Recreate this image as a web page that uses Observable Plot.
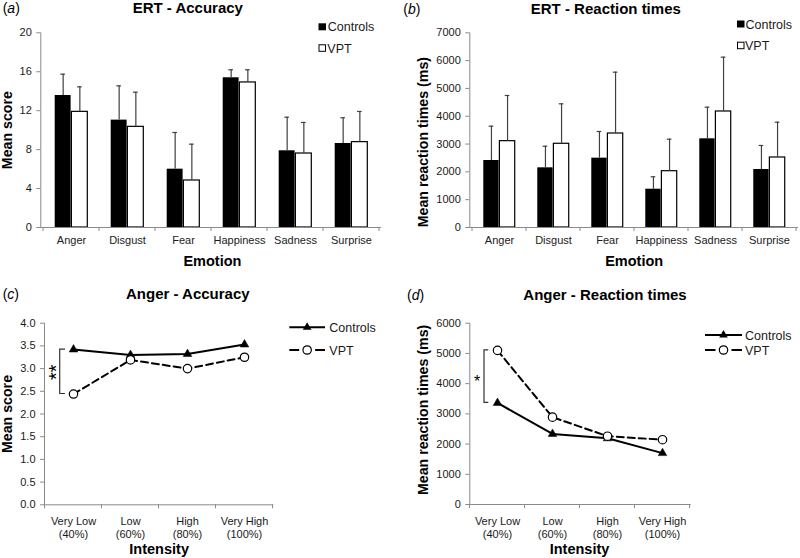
<!DOCTYPE html>
<html>
<head>
<meta charset="utf-8">
<script src="https://cdn.jsdelivr.net/npm/d3@7"></script>
<script src="https://cdn.jsdelivr.net/npm/@observablehq/plot@0.6"></script>
<style>
  html, body { margin: 0; padding: 0; background: #fff; }
  #root { position: relative; width: 800px; height: 558px; overflow: hidden; background: #fff;
          font-family: "Liberation Sans", Arial, Helvetica, sans-serif; }
  .panel { position: absolute; }
  #overlay { position: absolute; left: 0; top: 0; pointer-events: none; }
</style>
</head>
<body>
<div id="root"></div>
<script>
// ---------------- DATA ----------------
const emotions = ["Anger", "Disgust", "Fear", "Happiness", "Sadness", "Surprise"];
const accCtrlMean = [13.56, 11.03, 5.99, 15.38, 7.88, 8.63];
const accCtrlSD   = [2.19, 3.52, 3.77, 0.82, 3.45, 2.64];
const accVptMean  = [11.88, 10.34, 4.83, 14.90, 7.60, 8.77];
const accVptSD    = [2.57, 3.56, 3.73, 1.30, 3.19, 3.15];

const rtCtrlMean = [2409, 2146, 2493, 1377, 3189, 2086];
const rtCtrlSD   = [1234, 777, 959, 446, 1137, 863];
const rtVptMean  = [3104, 3010, 3380, 2024, 4171, 2517];
const rtVptSD    = [1642, 1437, 2205, 1151, 1953, 1269];

const intensities = ["Very Low (40%)", "Low (60%)", "High (80%)", "Very High (100%)"];
const intensityTickLabels = ["Very Low\n(40%)", "Low\n(60%)", "High\n(80%)", "Very High\n(100%)"];
const angerAccCtrl = [3.42, 3.30, 3.32, 3.53];
const angerAccVpt  = [2.44, 3.19, 3.00, 3.25];
const angerRtCtrl  = [3360, 2335, 2190, 1700];
const angerRtVpt   = [5100, 2890, 2260, 2145];

const accTicks = [0, 4, 8, 12, 16, 20];
const rtTicks = [0, 1000, 2000, 3000, 4000, 5000, 6000, 7000];
const angerAccTicks = [0, 0.5, 1, 1.5, 2, 2.5, 3, 3.5, 4];
const angerRtTicks = [0, 1000, 2000, 3000, 4000, 5000, 6000];

const groups = ["Controls", "VPT"];

// ---------------- STYLE ----------------
const FONT = '"Liberation Sans", Arial, Helvetica, sans-serif';
const AXIS = "#8a8a8a";
const TXT = "#1a1a1a";
const ERR = "#404040";
const PW = 400;

// boundary tick marks on a categorical x axis (Excel style)
function catTicks(len = 4) {
  return (index, scales, values, dims) => {
    const x = scales.x;
    const dom = x.domain();
    const step = x.step();
    const off = (typeof x.bandwidth === "function") ? x.bandwidth() / 2 : 0;
    const y0 = dims.height - dims.marginBottom;
    const g = d3.create("svg:g").attr("stroke", AXIS).attr("stroke-width", 1);
    const xs = dom.map(d => x(d) + off - step / 2);
    xs.push(x(dom[dom.length - 1]) + off + step / 2);
    for (const xx of xs) g.append("line").attr("x1", xx).attr("x2", xx).attr("y1", y0).attr("y2", y0 + len);
    return g.node();
  };
}

// significance bracket between two values at one category
function bracket(cat, v1, v2, off, len) {
  return (index, scales) => {
    const {x, y} = scales;
    const cx = x(cat) + ((typeof x.bandwidth === "function") ? x.bandwidth() / 2 : 0) + off;
    const a = y(v1), b = y(v2);
    return d3.create("svg:path")
      .attr("d", `M${cx + len},${a}H${cx}V${b}H${cx + len}`)
      .attr("fill", "none").attr("stroke", "#333").attr("stroke-width", 1.2).node();
  };
}

function barPanel(o) {
  const rows = emotions.map((e, i) => ({
    emotion: e,
    ctrl: o.ctrl[i], ctrlTop: o.ctrl[i] + o.ctrlSD[i],
    vpt: o.vpt[i], vptTop: o.vpt[i] + o.vptSD[i]
  }));
  const bw = (PW - o.ml - o.mr) / emotions.length;
  const gap = 0.206 * bw, half = bw / 2 - gap, off = half / 2, cap = 2.7;
  return Plot.plot({
    width: PW, height: 270,
    marginLeft: o.ml, marginRight: o.mr, marginTop: o.mt, marginBottom: o.mb,
    style: {fontFamily: FONT, background: "transparent", color: "#000"},
    x: {type: "band", domain: emotions, paddingInner: 0, paddingOuter: 0, axis: null},
    y: {domain: o.yDomain, axis: null},
    marks: [
      Plot.barY(rows, {x: "emotion", y: "ctrl", fill: "#000", insetLeft: gap, insetRight: bw / 2}),
      Plot.barY(rows, {x: "emotion", y: "vpt", fill: "#fff", stroke: "#000", strokeWidth: 1.2, insetLeft: bw / 2, insetRight: gap}),
      Plot.ruleX(rows, {x: "emotion", y1: "ctrl", y2: "ctrlTop", dx: -off, stroke: ERR, strokeWidth: 1.2}),
      Plot.ruleX(rows, {x: "emotion", y1: "vpt", y2: "vptTop", dx: off, stroke: ERR, strokeWidth: 1.2}),
      Plot.tickY(rows, {x: "emotion", y: "ctrlTop", insetLeft: bw / 2 - off - cap, insetRight: bw / 2 + off - cap, stroke: ERR, strokeWidth: 1.2}),
      Plot.tickY(rows, {x: "emotion", y: "vptTop", insetLeft: bw / 2 + off - cap, insetRight: bw / 2 - off - cap, stroke: ERR, strokeWidth: 1.2}),
      Plot.ruleY([o.yDomain[0]], {stroke: AXIS}),
      Plot.frame({anchor: "left", stroke: AXIS}),
      Plot.axisY({ticks: o.yTicks, tickSize: 4, tickPadding: 5, tickFormat: o.fmt, fontSize: 11, stroke: AXIS, fill: TXT, label: null}),
      catTicks(4),
      Plot.text(emotions, {x: d => d, text: d => d, frameAnchor: "bottom", lineAnchor: "top", dy: 8.9, fontSize: 11, fill: TXT}),
      Plot.text([o.ylab], {text: d => d, frameAnchor: "left", textAnchor: "middle", lineAnchor: "middle", rotate: -90, dx: o.ylabDx, dy: o.ylabDy, fontSize: 14.2, fontWeight: "bold", fill: "#000"}),
      Plot.text(["Emotion"], {text: d => d, frameAnchor: "bottom", textAnchor: "middle", lineAnchor: "middle", dx: o.xlabDx, dy: 33.4, fontSize: 14.5, fontWeight: "bold", fill: "#000"})
    ]
  });
}

function linePanel(o) {
  const rows = intensities.map((c, i) => ({cat: c, label: intensityTickLabels[i], ctrl: o.ctrl[i], vpt: o.vpt[i]}));
  const sig = [{cat: intensities[0], mid: (o.ctrl[0] + o.vpt[0]) / 2}];
  return Plot.plot({
    width: PW, height: 288,
    marginLeft: o.ml, marginRight: o.mr, marginTop: o.mt, marginBottom: o.mb,
    style: {fontFamily: FONT, background: "transparent", color: "#000"},
    x: {type: "point", domain: intensities, padding: 0.5, axis: null},
    y: {domain: o.yDomain, axis: null},
    marks: [
      Plot.ruleY([o.yDomain[0]], {stroke: AXIS}),
      Plot.frame({anchor: "left", stroke: AXIS}),
      Plot.axisY({ticks: o.yTicks, tickSize: 4, tickPadding: 5, tickFormat: o.fmt, fontSize: 11, stroke: AXIS, fill: TXT, label: null}),
      catTicks(4),
      Plot.text(rows, {x: "cat", text: "label", frameAnchor: "bottom", lineAnchor: "top", dy: o.tickDy, lineHeight: 1.18, fontSize: 11, fill: TXT}),
      bracket(intensities[0], o.ctrl[0], o.vpt[0], o.brOff, o.brLen),
      Plot.text(sig, {x: "cat", y: "mid", text: () => o.stars, rotate: o.starRotate, textAnchor: "middle", lineAnchor: "middle", dx: o.starDx, dy: o.starDy, fontSize: o.starSize, fill: "#000"}),
      Plot.line(rows, {x: "cat", y: "ctrl", stroke: "#000", strokeWidth: 2}),
      Plot.dot(rows, {x: "cat", y: "ctrl", symbol: "triangle", r: 3.2, fill: "#000", stroke: "#000", strokeWidth: 0.5}),
      Plot.line(rows, {x: "cat", y: "vpt", stroke: "#000", strokeWidth: 2, strokeDasharray: "7,4"}),
      Plot.dot(rows, {x: "cat", y: "vpt", r: 4.2, fill: "#fff", stroke: "#000", strokeWidth: 1.2}),
      Plot.text([o.ylab], {text: d => d, frameAnchor: "left", textAnchor: "middle", lineAnchor: "middle", rotate: -90, dx: o.ylabDx, dy: o.ylabDy, fontSize: 14.2, fontWeight: "bold", fill: "#000"}),
      Plot.text(["Intensity"], {text: d => d, frameAnchor: "bottom", textAnchor: "middle", lineAnchor: "middle", dx: o.xlabDx, dy: o.xlabDy, fontSize: 14.5, fontWeight: "bold", fill: "#000"})
    ]
  });
}

const root = document.getElementById("root");
function place(node, left, top, w, h) {
  const div = document.createElement("div");
  div.className = "panel";
  div.style.left = left + "px"; div.style.top = top + "px";
  div.style.width = w + "px"; div.style.height = h + "px";
  div.appendChild(node);
  root.appendChild(div);
}

place(barPanel({
  ctrl: accCtrlMean, ctrlSD: accCtrlSD, vpt: accVptMean, vptSD: accVptSD,
  yDomain: [0, 20], yTicks: accTicks, fmt: d => String(d),
  ml: 40.3, mr: 19, mt: 32.3, mb: 43,
  ylab: "Mean score", ylabDx: -33.1, ylabDy: 0, xlabDx: 1.3
}), 0, 0, 400, 270);

place(barPanel({
  ctrl: rtCtrlMean, ctrlSD: rtCtrlSD, vpt: rtVptMean, vptSD: rtVptSD,
  yDomain: [0, 7000], yTicks: rtTicks, fmt: d => String(d),
  ml: 69.3, mr: 2, mt: 32.3, mb: 43,
  ylab: "Mean reaction times (ms)", ylabDx: -46.4, ylabDy: 12, xlabDx: 0
}), 400, 0, 400, 270);

place(linePanel({
  ctrl: angerAccCtrl, vpt: angerAccVpt,
  yDomain: [0, 4], yTicks: angerAccTicks, fmt: d => d.toFixed(1),
  ml: 44, mr: 126.7, mt: 52.7, mb: 53.7, tickDy: 11.2,
  brOff: -13.3, brLen: 5.3, stars: "**", starRotate: -90, starSize: 20, starDx: -16.8, starDy: 0.5,
  ylab: "Mean score", ylabDx: -36.8, ylabDy: 0, xlabDx: 0, xlabDy: 44.6
}), 0, 270, 400, 288);

place(linePanel({
  ctrl: angerRtCtrl, vpt: angerRtVpt,
  yDomain: [0, 6000], yTicks: angerRtTicks, fmt: d => String(d),
  ml: 69.3, mr: 109.3, mt: 52.7, mb: 54, tickDy: 11.2,
  brOff: -13, brLen: 4.3, stars: "*", starRotate: 0, starSize: 16, starDx: -20.3, starDy: 5,
  ylab: "Mean reaction times (ms)", ylabDx: -46.4, ylabDy: -4, xlabDx: -1, xlabDy: 44.9
}), 400, 270, 400, 288);

// ---------------- TITLES & LEGENDS (overlay) ----------------
const ov = d3.select(root).append("svg").attr("id", "overlay")
  .attr("width", 800).attr("height", 558)
  .style("font-family", FONT);

function panelTag(letter, x, y) {
  const t = ov.append("text").attr("x", x).attr("y", y).attr("font-size", 14).attr("fill", "#000");
  t.append("tspan").text("(");
  t.append("tspan").attr("font-style", "italic").text(letter);
  t.append("tspan").text(")");
}
function title(txt, x, y) {
  ov.append("text").attr("x", x).attr("y", y).attr("text-anchor", "middle")
    .attr("font-size", 15).attr("font-weight", "bold").attr("fill", "#000").text(txt);
}
panelTag("a", 2.7, 13.3);   title("ERT - Accuracy", 187.8, 12.7);
panelTag("b", 403.3, 14);   title("ERT - Reaction times", 605.8, 14);
panelTag("c", 2.7, 298.7);  title("Anger - Accuracy", 187.8, 298.7);
panelTag("d", 407, 300);    title("Anger - Reaction times", 605, 300);

function barLegend(x, yCtrl, yVpt, textX, baseCtrl, baseVpt) {
  ov.append("rect").attr("x", x).attr("y", yCtrl).attr("width", 7.5).attr("height", 7).attr("fill", "#000");
  ov.append("text").attr("x", textX).attr("y", baseCtrl).attr("font-size", 12.5).attr("fill", TXT).text(groups[0]);
  ov.append("rect").attr("x", x + 0.5).attr("y", yVpt + 0.5).attr("width", 6.5).attr("height", 6.5)
    .attr("fill", "#fff").attr("stroke", "#000").attr("stroke-width", 1);
  ov.append("text").attr("x", textX - 0.5).attr("y", baseVpt).attr("font-size", 12.5).attr("fill", TXT).text(groups[1]);
}
barLegend(318.5, 23.3, 44.3, 327.8, 31, 52.5);
barLegend(737, 20.5, 41.7, 745.5, 29, 50);

const tri = d3.symbol(d3.symbolTriangle, Math.PI * 3.2 * 3.2)();
function lineLegend(x1, x2, yCtrl, yVpt, textX) {
  const mx = (x1 + x2) / 2;
  ov.append("line").attr("x1", x1).attr("x2", x2).attr("y1", yCtrl).attr("y2", yCtrl).attr("stroke", "#000").attr("stroke-width", 2);
  ov.append("path").attr("d", tri).attr("transform", `translate(${mx},${yCtrl})`).attr("fill", "#000");
  ov.append("text").attr("x", textX).attr("y", yCtrl + 4.6).attr("font-size", 12.5).attr("fill", TXT).text(groups[0]);
  ov.append("line").attr("x1", x1).attr("x2", mx - 8).attr("y1", yVpt).attr("y2", yVpt).attr("stroke", "#000").attr("stroke-width", 2);
  ov.append("line").attr("x1", mx + 8).attr("x2", x2).attr("y1", yVpt).attr("y2", yVpt).attr("stroke", "#000").attr("stroke-width", 2);
  ov.append("circle").attr("cx", mx).attr("cy", yVpt).attr("r", 4.2).attr("fill", "#fff").attr("stroke", "#000").attr("stroke-width", 1.2);
  ov.append("text").attr("x", textX).attr("y", yVpt + 4.6).attr("font-size", 12.5).attr("fill", TXT).text(groups[1]);
}
lineLegend(289.3, 325, 327.3, 350, 329.3);
lineLegend(705, 742, 335, 350, 745);
</script>
</body>
</html>
